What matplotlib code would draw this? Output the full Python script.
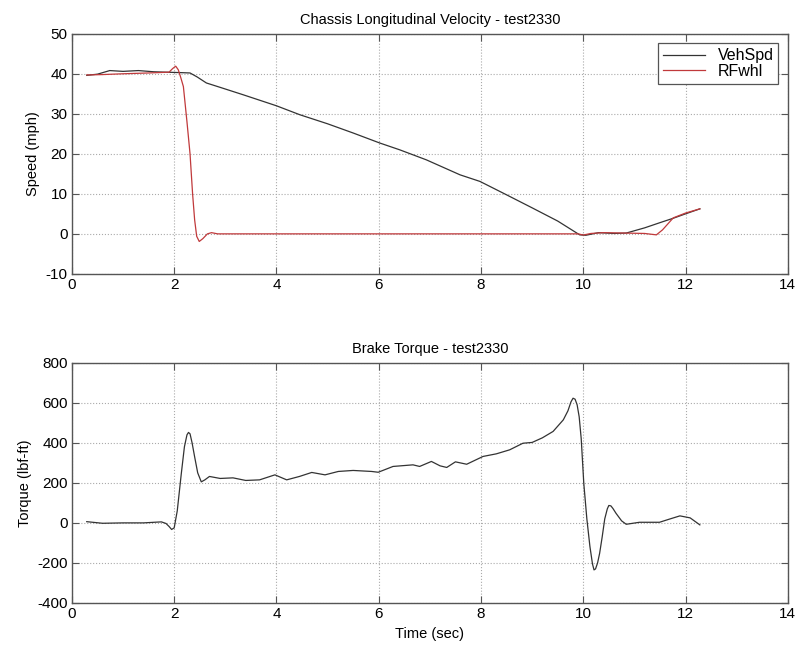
import matplotlib
matplotlib.use('Agg')
import matplotlib.pyplot as plt

plt.rcParams['font.family'] = ['Liberation Sans', 'DejaVu Sans']
plt.rcParams['axes.unicode_minus'] = False

# vehicle speed (mph)
veh_t = [0.29, 0.5, 0.74, 1.0, 1.3, 1.6, 1.83, 2.1, 2.31, 2.45, 2.63, 2.9, 3.35, 4.0, 4.46,
         5.0, 5.5, 6.02, 6.41, 6.93, 7.59, 7.98, 8.5, 9.0, 9.5, 9.93, 10.05, 10.3, 10.6,
         10.84, 11.2, 11.5, 11.76, 12.0, 12.28]
veh_v = [39.6, 39.9, 40.8, 40.6, 40.8, 40.5, 40.4, 40.3, 40.2, 39.2, 37.7, 36.6, 34.75, 32.0, 29.75,
         27.5, 25.2, 22.7, 21.0, 18.5, 14.75, 13.1, 9.75, 6.5, 3.2, -0.25, -0.35, 0.3, 0.1,
         0.2, 1.5, 2.8, 3.9, 5.0, 6.25]

# right front wheel speed (mph)
whl_t = [0.29, 0.6, 1.0, 1.5, 1.9, 1.97, 2.03, 2.08, 2.13, 2.18, 2.25, 2.31, 2.36, 2.40, 2.44,
         2.49, 2.56, 2.65, 2.73, 2.85, 3.0, 5.0, 8.0, 9.9, 10.0, 10.15, 10.4, 10.8, 11.2,
         11.43, 11.55, 11.76, 12.0, 12.28]
whl_v = [39.7, 39.8, 40.0, 40.2, 40.4, 41.3, 41.9, 41.0, 39.0, 36.8, 28.0, 20.0, 10.0, 3.5, -0.6,
         -1.9, -1.2, 0.0, 0.3, 0.0, 0.0, 0.0, 0.0, 0.0, -0.3, 0.1, 0.3, 0.2, 0.1,
         -0.25, 1.0, 4.0, 5.2, 6.25]

# brake torque (lbf-ft)
trq_t = [0.29, 0.6, 1.0, 1.4, 1.75, 1.84, 1.90, 1.95, 2.00, 2.06, 2.14, 2.20, 2.25, 2.28,
         2.31, 2.35, 2.40, 2.46, 2.53, 2.60, 2.69, 2.9, 3.15, 3.4, 3.67, 3.97, 4.2, 4.45, 4.69,
         4.95, 5.21, 5.5, 5.86, 5.99, 6.28, 6.67, 6.8, 7.03, 7.2, 7.33, 7.5, 7.72, 8.04, 8.3,
         8.56, 8.82, 9.0, 9.2, 9.41, 9.61, 9.70, 9.76, 9.80, 9.84, 9.88, 9.92, 9.96, 10.01,
         10.07, 10.13, 10.18, 10.21, 10.24, 10.28, 10.32, 10.37, 10.42, 10.47, 10.5, 10.54,
         10.58, 10.64, 10.75, 10.84, 11.1, 11.49, 11.7, 11.89, 12.09, 12.28]
trq_v = [6, -2, 0, 0, 5, -3, -18, -33, -25, 60, 248, 380, 440, 452,
         445, 400, 330, 250, 205, 215, 232, 222, 225, 212, 215, 240, 215, 232, 252,
         240, 257, 262, 257, 253, 282, 290, 282, 307, 285, 277, 305, 293, 332, 345,
         365, 398, 402, 425, 457, 515, 560, 605, 623, 618, 590, 530, 420, 198,
         20, -118, -205, -235, -230, -200, -152, -70, 20, 70, 87, 85,
         72, 48, 10, -7, 3, 3, 20, 35, 25, -10]

fig = plt.figure(figsize=(7.99, 6.49), dpi=100)
ax1 = fig.add_axes([0.090, 0.578, 0.896, 0.370])
ax2 = fig.add_axes([0.090, 0.071, 0.896, 0.370])

edge = '#555555'
for ax in (ax1, ax2):
    ax.set_xlim(0, 14)
    ax.set_xticks(range(0, 15, 2))
    ax.grid(True, linestyle=':', color='#aaaaaa', linewidth=0.8)
    ax.tick_params(direction='in', top=True, right=True, labelsize=11,
                   color=edge, length=5, pad=3)
    for s in ax.spines.values():
        s.set_color(edge)
        s.set_linewidth(1.0)

ax1.plot(veh_t, veh_v, color='#333333', linewidth=0.9, label='VehSpd')
ax1.plot(whl_t, whl_v, color='#c0393b', linewidth=0.9, label='RFwhl')
ax1.set_ylim(-10, 50)
ax1.set_yticks(range(-10, 51, 10))
ax1.set_ylabel('Speed (mph)', fontsize=10.5)
ax1.set_title('Chassis Longitudinal Velocity - test2330', fontsize=10.5, pad=7)
leg = ax1.legend(loc='upper right', fontsize=11.5, fancybox=False, framealpha=1,
                 handlelength=2.6, borderaxespad=0.6, borderpad=0.3, labelspacing=0.05)
leg.get_frame().set_edgecolor(edge)
leg.get_frame().set_linewidth(0.9)

ax2.plot(trq_t, trq_v, color='#333333', linewidth=0.9)
ax2.set_ylim(-400, 800)
ax2.set_yticks(range(-400, 801, 200))
ax2.set_ylabel('Torque (lbf-ft)', fontsize=10.5)
ax2.set_xlabel('Time (sec)', fontsize=10.5, labelpad=4)
ax2.set_title('Brake Torque - test2330', fontsize=10.5, pad=7)

plt.savefig('out.png', dpi=100)
